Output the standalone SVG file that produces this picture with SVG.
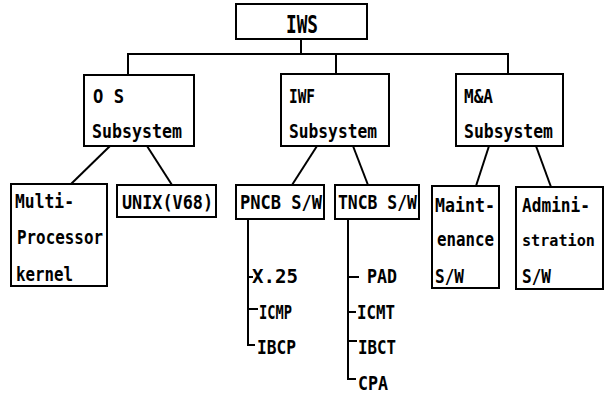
<svg xmlns="http://www.w3.org/2000/svg" width="611" height="393" viewBox="0 0 611 393">
<style>
rect{fill:#fff;stroke:#000;stroke-width:2}
line,path{stroke:#000;stroke-width:2;fill:none}
text{font-family:"DejaVu Sans Mono","Liberation Mono",monospace;font-size:19px;font-weight:bold;fill:#000}
.big{font-size:24px}
.sm{font-size:16.5px}
</style>
<rect x="0" y="0" width="611" height="393" style="fill:#fff;stroke:none"/>
<g id="connectors">
<line x1="301" y1="39" x2="301" y2="54"/>
<path d="M128 74V54H508V74"/>
<line x1="336" y1="54" x2="336" y2="74"/>
<line x1="110" y1="146" x2="71" y2="184"/>
<line x1="147" y1="146" x2="172" y2="185"/>
<line x1="317" y1="146" x2="292" y2="185"/>
<line x1="353" y1="146" x2="368" y2="185"/>
<line x1="489" y1="146" x2="476" y2="186"/>
<line x1="536" y1="146" x2="551" y2="187"/>
<path d="M248 219V345H255"/>
<line x1="248" y1="277" x2="253" y2="277"/>
<line x1="248" y1="309" x2="258" y2="309"/>
<path d="M348 219V379H356"/>
<line x1="348" y1="277" x2="359" y2="277"/>
<line x1="348" y1="312" x2="356" y2="312"/>
<line x1="348" y1="341" x2="357" y2="341"/>
</g>
<g id="iws"><rect x="236" y="4" width="131" height="35"/><text class="big" x="286" y="33" textLength="32" lengthAdjust="spacingAndGlyphs">IWS</text></g>
<g id="os"><rect x="84" y="75" width="110" height="71"/><text x="93" y="103" textLength="31" lengthAdjust="spacingAndGlyphs">O S</text><text x="92" y="138" textLength="90" lengthAdjust="spacingAndGlyphs">Subsystem</text></g>
<g id="iwf"><rect x="281" y="74" width="108" height="72"/><text x="289" y="103" textLength="26" lengthAdjust="spacingAndGlyphs">IWF</text><text x="289" y="138" textLength="88" lengthAdjust="spacingAndGlyphs">Subsystem</text></g>
<g id="ma"><rect x="456" y="74" width="107" height="72"/><text x="464" y="103" textLength="29" lengthAdjust="spacingAndGlyphs">M&amp;A</text><text x="464" y="138" textLength="89" lengthAdjust="spacingAndGlyphs">Subsystem</text></g>
<g id="multi"><rect x="11" y="184" width="96" height="102"/><text x="15" y="208" textLength="59" lengthAdjust="spacingAndGlyphs">Multi-</text><text x="17" y="244" textLength="86" lengthAdjust="spacingAndGlyphs">Processor</text><text x="16" y="281" textLength="57" lengthAdjust="spacingAndGlyphs">kernel</text></g>
<g id="unix"><rect x="117" y="185" width="99" height="32"/><text x="122" y="209" textLength="91" lengthAdjust="spacingAndGlyphs">UNIX(V68)</text></g>
<g id="pncb"><rect x="236" y="185" width="88" height="34"/><text x="240" y="209" textLength="82" lengthAdjust="spacingAndGlyphs">PNCB S/W</text></g>
<g id="tncb"><rect x="335" y="185" width="84" height="34"/><text x="338" y="209" textLength="79" lengthAdjust="spacingAndGlyphs">TNCB S/W</text></g>
<g id="maint"><rect x="432" y="186" width="67" height="102"/><text x="435" y="212" textLength="60" lengthAdjust="spacingAndGlyphs">Maint-</text><text x="437" y="246" textLength="57" lengthAdjust="spacingAndGlyphs">enance</text><text x="435" y="283" textLength="29" lengthAdjust="spacingAndGlyphs">S/W</text></g>
<g id="admin"><rect x="516" y="187" width="87" height="102"/><text x="522" y="212" textLength="68" lengthAdjust="spacingAndGlyphs">Admini-</text><text class="sm" x="522" y="246" textLength="73" lengthAdjust="spacingAndGlyphs">stration</text><text x="522" y="283" textLength="29" lengthAdjust="spacingAndGlyphs">S/W</text></g>
<g id="x25"><text x="252" y="283" textLength="46" lengthAdjust="spacingAndGlyphs">X.25</text></g>
<g id="icmp"><text x="259" y="319" textLength="33" lengthAdjust="spacingAndGlyphs">ICMP</text></g>
<g id="ibcp"><text x="257" y="354" textLength="39" lengthAdjust="spacingAndGlyphs">IBCP</text></g>
<g id="pad"><text x="367" y="283" textLength="30" lengthAdjust="spacingAndGlyphs">PAD</text></g>
<g id="icmt"><text x="357" y="319" textLength="38" lengthAdjust="spacingAndGlyphs">ICMT</text></g>
<g id="ibct"><text x="358" y="354" textLength="38" lengthAdjust="spacingAndGlyphs">IBCT</text></g>
<g id="cpa"><text x="358" y="390" textLength="30" lengthAdjust="spacingAndGlyphs">CPA</text></g>
</svg>
